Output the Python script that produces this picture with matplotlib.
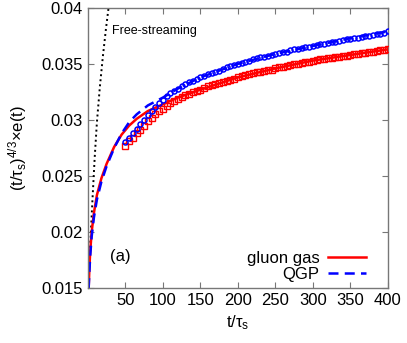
import matplotlib
matplotlib.use('Agg')
import matplotlib.pyplot as plt

plt.rcParams['font.family'] = ['Liberation Sans', 'DejaVu Sans']
plt.rcParams['mathtext.fontset'] = 'custom'
plt.rcParams['mathtext.rm'] = 'Liberation Sans'
plt.rcParams['mathtext.it'] = 'Liberation Sans:italic'

# free-streaming curve
fs_t = [0.5, 3, 6, 9, 12, 16, 20, 24, 27.5]
fs_y = [0.0150, 0.0187, 0.0228, 0.0266, 0.0298, 0.0330, 0.0357, 0.0381, 0.0400]

# hydro curves (lines)
line_t = [1, 2, 3, 5, 8, 12, 18, 25, 35, 45, 55, 65, 80, 100, 120, 150, 200, 250, 300, 350, 400]
gluon_line = [0.0150, 0.0168, 0.0182, 0.0200, 0.0217, 0.0233, 0.0248, 0.0261, 0.0276, 0.0287, 0.0295,
              0.0301, 0.0308, 0.0314, 0.0320, 0.0327, 0.0338, 0.0346, 0.0353, 0.0358, 0.0363]
qgp_line = [0.0150, 0.0165, 0.0178, 0.0196, 0.0213, 0.0229, 0.0245, 0.0259, 0.0275, 0.0288, 0.0298,
            0.0305, 0.0313, 0.0320, 0.0328, 0.0338, 0.0350, 0.0359, 0.0366, 0.0373, 0.0379]

# points, t = 50 ... 400 step 5
pts_t = list(range(50, 401, 5))
gluon_pts = [0.0277, 0.0281, 0.0284, 0.0288, 0.0291, 0.0295, 0.0299, 0.0302, 0.0305, 0.0308,
             0.0310, 0.03125, 0.0315, 0.0317, 0.0319, 0.03205, 0.0322, 0.03235, 0.0325, 0.0326,
             0.0327, 0.03285, 0.0330, 0.0331, 0.0332, 0.0333, 0.0334, 0.0335, 0.0336, 0.0337,
             0.0338, 0.0339, 0.0340, 0.0341, 0.0342, 0.03425, 0.0343, 0.0344, 0.03445, 0.0345,
             0.0346, 0.0347, 0.03475, 0.0348, 0.0349, 0.03495, 0.0350, 0.0351, 0.03515, 0.0352,
             0.0353, 0.03535, 0.0354, 0.03545, 0.0355, 0.03555, 0.0356, 0.03565, 0.0357, 0.03575,
             0.0358, 0.03585, 0.0359, 0.03595, 0.0360, 0.03605, 0.0361, 0.03615, 0.0362, 0.03625,
             0.0363]
qgp_pts = [0.0280, 0.0284, 0.0288, 0.0292, 0.0296, 0.0300, 0.0304, 0.0308, 0.0312, 0.0315,
           0.0318, 0.0321, 0.0324, 0.0326, 0.0328, 0.0330, 0.0332, 0.03335, 0.0335, 0.03365,
           0.0338, 0.0339, 0.0341, 0.0342, 0.0343, 0.0344, 0.03455, 0.0347, 0.0348, 0.0349,
           0.0350, 0.0351, 0.0352, 0.0353, 0.0354, 0.0355, 0.0356, 0.03565, 0.0357, 0.0358,
           0.0359, 0.0360, 0.03605, 0.0361, 0.0362, 0.0363, 0.03635, 0.0364, 0.0365, 0.03655,
           0.0366, 0.0367, 0.03675, 0.0368, 0.0369, 0.03695, 0.0370, 0.03705, 0.0371, 0.0372,
           0.03725, 0.0373, 0.03735, 0.0374, 0.03745, 0.0375, 0.0376, 0.03765, 0.0377, 0.0378,
           0.0379]

xticks = [50, 100, 150, 200, 250, 300, 350, 400]
yticks = [0.015, 0.02, 0.025, 0.03, 0.035, 0.04]
ylabels = ['0.015', '0.02', '0.025', '0.03', '0.035', '0.04']

fig = plt.figure(figsize=(4.07, 3.43), dpi=100)
ax = fig.add_axes([0.216, 0.160, 0.737, 0.817])

ax.plot(fs_t, fs_y, color='black', linestyle=(0, (1, 1.6)), lw=1.4)
l1, = ax.plot(line_t, gluon_line, color='red', lw=1.8)
l2, = ax.plot(line_t, qgp_line, color='blue', lw=1.8, linestyle=(0, (4, 2.5)))
ax.plot(pts_t, gluon_pts, 's', mfc='none', mec='red', ms=4, mew=1.0, zorder=3)
ax.plot(pts_t, qgp_pts, 'o', mfc='none', mec='blue', ms=3.6, mew=1.1, zorder=3)

ax.text(32, 0.0379, 'Free-streaming', fontsize=9, va='center', ha='left')
ax.text(29, 0.0178, '(a)', fontsize=12, va='center', ha='left')

ax.legend([l1, l2], ['gluon gas', 'QGP'], markerfirst=False, frameon=False, fontsize=12,
          loc='lower right', bbox_to_anchor=(0.955, -0.008), handlelength=2.3, handletextpad=0.5,
          labelspacing=0.08, borderpad=0.0)

ax.set_xlim(0, 400)
ax.set_ylim(0.015, 0.04)
ax.set_xticks(xticks)
ax.set_xticklabels([str(v) for v in xticks])
ax.set_yticks(yticks)
ax.set_yticklabels(ylabels)
ax.tick_params(direction='in', top=True, right=True, length=4, color='#777777', labelsize=12)
for s in ax.spines.values():
    s.set_color('#777777')
    s.set_linewidth(1)

ax.set_xlabel(r't/$\mathrm{\tau_s}$', fontsize=12)
ax.set_ylabel(r'(t/$\mathrm{\tau_s}$)$^{\mathrm{4/3}}$$\mathrm{\times}$e(t)', fontsize=12, labelpad=9)

fig.savefig('out.png', dpi=100)
